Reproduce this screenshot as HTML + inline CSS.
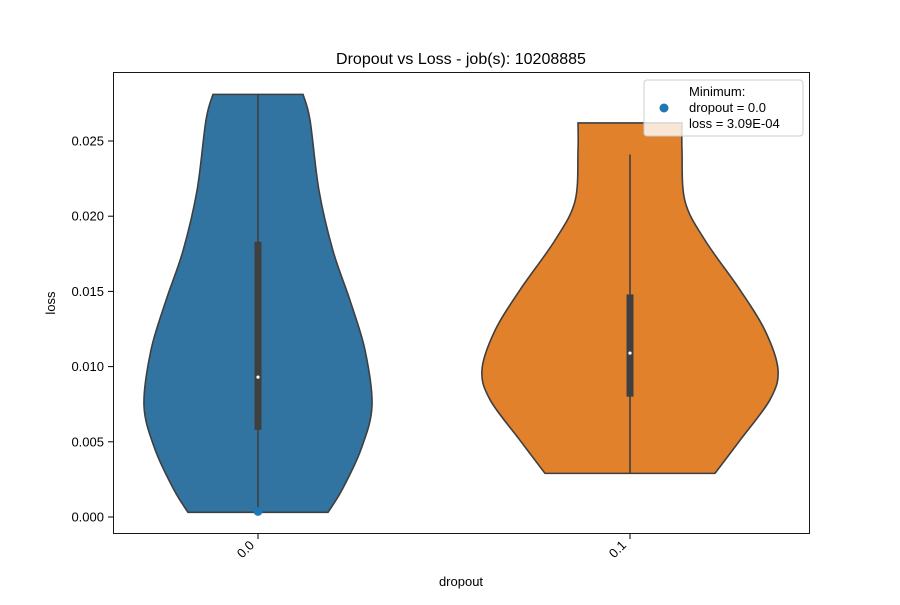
<!DOCTYPE html>
<html><head><meta charset="utf-8"><style>
body{margin:0;background:#fff}
svg text{font-family:"Liberation Sans","DejaVu Sans",sans-serif;fill:#000}
</style></head><body>
<svg id="chart" width="900" height="600" viewBox="0 0 900 600">
<rect width="900" height="600" fill="#fff"/>
<text x="461" y="64" font-size="16" text-anchor="middle">Dropout vs Loss - job(s): 10208885</text>
<g id="plot"></g>
<rect x="113.5" y="72.5" width="696" height="461" fill="none" stroke="#000" stroke-width="0.9"/>
<text x="461" y="586" font-size="13" text-anchor="middle">dropout</text>
<text transform="translate(55,303) rotate(-90)" font-size="13" text-anchor="middle">loss</text>
<g>
<rect x="644" y="80" width="159" height="56" rx="3" fill="#fff" fill-opacity="0.8" stroke="#ccc"/>
<circle cx="664" cy="108" r="4.5" fill="#1f77b4"/>
<text x="689" y="96" font-size="13">Minimum:</text>
<text x="689" y="112" font-size="13">dropout = 0.0</text>
<text x="689" y="128" font-size="13">loss = 3.09E-04</text>
</g>
</svg>
<script>
const categories=["0.0","0.1"];
const colors=["#3274a1","#e1812c"];
const yTicks=[0,0.005,0.010,0.015,0.020,0.025];
const yTickLabels=["0.000","0.005","0.010","0.015","0.020","0.025"];
const prof0Loss=[0.0281,0.0264,0.0217,0.0177,0.0144,0.0111,0.0074,0.0045,0.0018,0.00031];
const prof0Width=[45,52,61,75,92,107,114,103,84,70];
const prof1Loss=[0.0262,0.0243,0.0210,0.0184,0.0151,0.0124,0.0098,0.0078,0.0051,0.0029];
const prof1Width=[52,52,55,75,110,135,148,140,110,85];
const q1=[0.0058,0.0080];
const q3=[0.0183,0.0148];
const medians=[0.0093,0.0109];
const whiskLo=[0.00031,0.0029];
const whiskHi=[0.0281,0.0241];
const minLoss=0.000309, minCat=0;

const NS="http://www.w3.org/2000/svg";
const g=document.getElementById('plot');
const y=v=>517-v*15040;
const x=i=>258+i*372;
function mk(t,a,p){const e=document.createElementNS(NS,t);for(const k in a)e.setAttribute(k,a[k]);(p||g).appendChild(e);return e;}
yTicks.forEach((v,i)=>{
  const l=mk('line',{x1:113,x2:108,y1:y(v),y2:y(v),stroke:'#000'});
  
  
  const t=mk('text',{x:104,y:y(v)+4.5,'font-size':13,'text-anchor':'end'});t.textContent=yTickLabels[i];
  
  
});
function smoothPath(pts){let d="M"+pts[0][0]+","+pts[0][1];
  for(let i=0;i<pts.length-1;i++){const p0=pts[Math.max(0,i-1)],p1=pts[i],p2=pts[i+1],p3=pts[Math.min(pts.length-1,i+2)];
    d+=` C${p1[0]+(p2[0]-p0[0])/6},${p1[1]+(p2[1]-p0[1])/6} ${p2[0]-(p3[0]-p1[0])/6},${p2[1]-(p3[1]-p1[1])/6} ${p2[0]},${p2[1]}`;}
  return d;}
const profs=[[prof0Loss,prof0Width],[prof1Loss,prof1Width]];
categories.forEach((c,i)=>{
  const cx=x(i);const [L,W]=profs[i];
  const right=L.map((v,k)=>[cx+W[k],y(v)]);
  const left=L.map((v,k)=>[cx-W[k],y(v)]).reverse();
  let d=smoothPath(right)+" L"+left[0][0]+","+left[0][1]+smoothPath(left).replace(/^M[^C]*/," ")+" Z";
  const p=mk('path',{d:d,fill:colors[i],stroke:'#3f3f3f','stroke-width':1.6});
  
  
  const w=mk('line',{x1:cx,x2:cx,y1:y(whiskLo[i]),y2:y(whiskHi[i]),stroke:'#3f3f3f','stroke-width':1.6});
  
  
  const b=mk('rect',{x:cx-3.5,y:y(q3[i]),width:7,height:y(q1[i])-y(q3[i]),fill:'#3f3f3f'});
  
  
  const m=mk('circle',{cx:cx,cy:y(medians[i]),r:1.6,fill:'#fff'});
  
  
  const tk=mk('line',{x1:cx,x2:cx,y1:534,y2:539,stroke:'#000'});
  
  
  const t=mk('text',{x:cx-3,y:546,'font-size':13,'text-anchor':'end',transform:`rotate(-45 ${cx-3} 546)`});t.textContent=c;
  
  
});
const dot=mk('circle',{cx:x(minCat),cy:y(minLoss)-1,r:4.5,fill:'#1f77b4'});


</script>
</body></html>
